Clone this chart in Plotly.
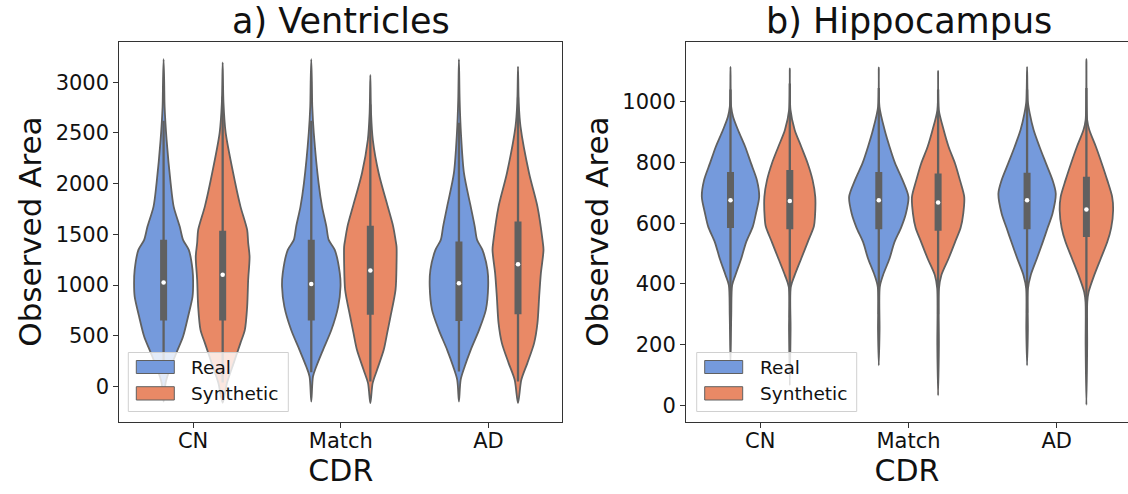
import numpy as np
import plotly.graph_objects as go

# ---------------- data ----------------
categories = ["CN", "Match", "AD"]
hues = ["Real", "Synthetic"]

# a) Ventricles: density profiles (value levels, relative density)
ven_cn_real_y = [3227, 3000, 2760, 2430, 2004, 1774, 1577, 1446, 1347, 1150, 1019, 887, 690, 493, 332, 165, 36, -150]
ven_cn_real_d = [0, 0.6, 1.0, 3.0, 7.0, 10.0, 16.0, 19.3, 25.0, 28.7, 29.3, 28.7, 24.3, 19.3, 12.7, 6.0, 2.0, 0]
ven_cn_syn_y = [3197, 2800, 2500, 2004, 1774, 1544, 1416, 1281, 1052, 788, 559, 430, 233, 36, -160]
ven_cn_syn_d = [0, 0.8, 3.0, 12.5, 17.7, 24.3, 25.3, 26.7, 25.3, 24.3, 22.0, 17.7, 11.0, 4.3, 0]
ven_match_real_y = [3227, 3000, 2760, 2500, 2004, 1774, 1577, 1446, 1347, 1118, 986, 788, 559, 362, 197, 99, -148]
ven_match_real_d = [0, 0.6, 1.0, 2.5, 7.3, 10.7, 15.0, 17.3, 23.3, 28.3, 29.0, 26.7, 20.0, 11.7, 5.0, 1.7, 0]
ven_match_syn_y = [3072, 2700, 2430, 2103, 1774, 1577, 1446, 1380, 1216, 953, 690, 526, 362, 165, 33, -164]
ven_match_syn_d = [0, 0.7, 2.5, 8.3, 17.3, 22.7, 25.0, 26.0, 26.0, 25.0, 20.0, 16.7, 13.3, 6.7, 2.3, 0]
ven_ad_real_y = [3227, 2826, 2497, 2103, 1774, 1577, 1446, 1347, 1150, 986, 756, 559, 362, 197, 66, -148]
ven_ad_real_d = [0, 0.7, 2.0, 5.0, 11.7, 15.7, 18.0, 23.3, 28.3, 29.0, 26.7, 20.0, 11.7, 5.7, 1.7, 0]
ven_ad_syn_y = [3154, 2800, 2562, 2103, 1774, 1446, 1347, 1118, 887, 625, 428, 231, 66, -164]
ven_ad_syn_d = [0, 0.7, 2.5, 11.0, 19.3, 24.3, 25.3, 22.7, 21.0, 19.3, 16.0, 9.3, 3.3, 0]

# inner box statistics per category (CN, Match, AD)
ven_real_q1 = [650, 650, 647]
ven_real_med = [1025, 1012, 1019]
ven_real_q3 = [1446, 1446, 1429]
ven_real_lo = [140, 140, 148]
ven_real_hi = [2620, 2620, 2600]
ven_syn_q1 = [650, 707, 713]
ven_syn_med = [1101, 1143, 1206]
ven_syn_q3 = [1535, 1584, 1626]
ven_syn_lo = [40, 50, 50]
ven_syn_hi = [2860, 2780, 2850]

# b) Hippocampus
hip_cn_real_y = [1115, 983, 950, 907, 852, 797, 742, 687, 632, 588, 538, 484, 429, 396, 300, 135]
hip_cn_real_d = [0, 0.7, 2.7, 7.7, 15.0, 21.0, 27.0, 29.3, 26.0, 22.7, 16.0, 11.0, 5.0, 1.7, 0.8, 0]
hip_cn_syn_y = [1110, 973, 907, 852, 797, 742, 687, 621, 590, 538, 484, 429, 390, 250, 66]
hip_cn_syn_d = [0, 0.7, 5.0, 11.7, 18.3, 23.3, 26.0, 25.7, 24.6, 18.3, 11.7, 5.0, 1.0, 0.8, 0]
hip_match_real_y = [1113, 983, 907, 852, 797, 742, 687, 632, 585, 538, 484, 429, 390, 250, 132]
hip_match_real_d = [0, 0.7, 6.0, 11.0, 16.7, 24.3, 30.3, 27.7, 22.7, 16.0, 11.0, 4.3, 1.0, 0.8, 0]
hip_match_syn_y = [1102, 973, 907, 852, 797, 742, 687, 632, 585, 538, 484, 429, 385, 200, 33]
hip_match_syn_d = [0, 0.7, 5.7, 10.7, 17.3, 22.3, 26.7, 25.7, 23.0, 17.3, 10.7, 3.3, 0.9, 0.8, 0]
hip_ad_real_y = [1115, 1000, 962, 907, 852, 797, 742, 698, 632, 585, 538, 484, 429, 385, 250, 132]
hip_ad_real_d = [0, 0.8, 2.7, 6.7, 12.7, 19.3, 26.0, 29.3, 26.0, 21.0, 16.0, 10.0, 3.7, 0.9, 0.8, 0]
hip_ad_syn_y = [1140, 940, 907, 852, 797, 742, 687, 643, 585, 538, 484, 429, 374, 341, 200, 2]
hip_ad_syn_d = [0, 0.8, 3.0, 9.7, 15.7, 21.3, 26.3, 27.3, 25.3, 21.3, 14.7, 8.0, 2.3, 0.9, 0.8, 0]

hip_real_q1 = [584, 580, 580]
hip_real_med = [676, 676, 676]
hip_real_q3 = [769, 769, 766]
hip_real_lo = [310, 300, 305]
hip_real_hi = [1040, 1045, 1040]
hip_syn_q1 = [580, 575, 555]
hip_syn_med = [673, 668, 645]
hip_syn_q3 = [775, 764, 753]
hip_syn_lo = [290, 300, 260]
hip_syn_hi = [1060, 1040, 1045]

ven_ticks = [0, 500, 1000, 1500, 2000, 2500, 3000]
hip_ticks = [0, 200, 400, 600, 800, 1000]

# ---------------- style ----------------
W, H = 1128, 494
COLORS = {"Real": "#759ADC", "Synthetic": "#E98966"}
GRAY = "#606060"
FONT = "DejaVu Sans"
HALF_WIDTH = 0.2
OFFSETS = {"Real": -0.2, "Synthetic": 0.2}


def px_x(x):
    return x / W


def px_y(y):
    return 1 - y / H


panels = [
    dict(
        xa="x", ya="y",
        profiles={
            ("CN", "Real"): (ven_cn_real_y, ven_cn_real_d),
            ("CN", "Synthetic"): (ven_cn_syn_y, ven_cn_syn_d),
            ("Match", "Real"): (ven_match_real_y, ven_match_real_d),
            ("Match", "Synthetic"): (ven_match_syn_y, ven_match_syn_d),
            ("AD", "Real"): (ven_ad_real_y, ven_ad_real_d),
            ("AD", "Synthetic"): (ven_ad_syn_y, ven_ad_syn_d),
        },
        stats={
            "Real": (ven_real_q1, ven_real_med, ven_real_q3, ven_real_lo, ven_real_hi),
            "Synthetic": (ven_syn_q1, ven_syn_med, ven_syn_q3, ven_syn_lo, ven_syn_hi),
        },
    ),
    dict(
        xa="x2", ya="y2",
        profiles={
            ("CN", "Real"): (hip_cn_real_y, hip_cn_real_d),
            ("CN", "Synthetic"): (hip_cn_syn_y, hip_cn_syn_d),
            ("Match", "Real"): (hip_match_real_y, hip_match_real_d),
            ("Match", "Synthetic"): (hip_match_syn_y, hip_match_syn_d),
            ("AD", "Real"): (hip_ad_real_y, hip_ad_real_d),
            ("AD", "Synthetic"): (hip_ad_syn_y, hip_ad_syn_d),
        },
        stats={
            "Real": (hip_real_q1, hip_real_med, hip_real_q3, hip_real_lo, hip_real_hi),
            "Synthetic": (hip_syn_q1, hip_syn_med, hip_syn_q3, hip_syn_lo, hip_syn_hi),
        },
    ),
]

fig = go.Figure()

for p in panels:
    dmax = max(max(d) for _, d in p["profiles"].values())
    for ci, cat in enumerate(categories):
        for hue in hues:
            ys, ds = p["profiles"][(cat, hue)]
            ys = np.asarray(ys, dtype=float)
            hw = np.asarray(ds, dtype=float) / dmax * HALF_WIDTH
            c = ci + OFFSETS[hue]
            # right side bottom -> top, left side top -> bottom
            xs = np.concatenate([c + hw[::-1], c - hw[1:]])
            yy = np.concatenate([ys[::-1], ys[1:]])
            fig.add_trace(go.Scatter(
                x=xs, y=yy, mode="lines", fill="toself",
                fillcolor=COLORS[hue],
                line=dict(color=GRAY, width=1.8, shape="spline", smoothing=0.8),
                hoverinfo="skip", showlegend=False, name=hue,
                xaxis=p["xa"], yaxis=p["ya"],
            ))
            q1, med, q3, lo, hi = (s[ci] for s in p["stats"][hue])
            fig.add_trace(go.Scatter(
                x=[c, c], y=[lo, hi], mode="lines",
                line=dict(color=GRAY, width=2.3),
                hoverinfo="skip", showlegend=False,
                xaxis=p["xa"], yaxis=p["ya"],
            ))
            fig.add_trace(go.Scatter(
                x=[c, c], y=[q1, q3], mode="lines",
                line=dict(color=GRAY, width=7),
                hoverinfo="skip", showlegend=False,
                xaxis=p["xa"], yaxis=p["ya"],
            ))
            fig.add_trace(go.Scatter(
                x=[c], y=[med], mode="markers",
                marker=dict(color="white", size=4.5, line=dict(width=0)),
                hoverinfo="skip", showlegend=False,
                xaxis=p["xa"], yaxis=p["ya"],
            ))

axis_common = dict(
    showline=True, linecolor="#333333", linewidth=1,
    ticks="outside", ticklen=5, tickwidth=1, tickcolor="#333333",
    showgrid=False, zeroline=False,
    tickfont=dict(family=FONT, size=21, color="#111111"),
)
x_common = dict(axis_common, ticklabelstandoff=-5)
y_dom = [px_y(421.5), px_y(41.7)]

fig.update_layout(
    width=W, height=H,
    margin=dict(l=0, r=0, t=0, b=0),
    paper_bgcolor="white", plot_bgcolor="white",
    font=dict(family=FONT, color="#111111"),
    xaxis=dict(x_common, domain=[px_x(119.3), px_x(562.3)], range=[-0.5, 2.5],
               tickvals=[0, 1, 2], ticktext=categories, mirror=True, anchor="y",
               title=dict(text="CDR", font=dict(family=FONT, size=30), standoff=4)),
    yaxis=dict(axis_common, domain=y_dom, range=[-345, 3400], tickvals=ven_ticks,
               mirror=True, anchor="x",
               title=dict(text="Observed Area", font=dict(family=FONT, size=31), standoff=4)),
    xaxis2=dict(x_common, domain=[px_x(686), 1.0], range=[-0.5, 2.4805],
                tickvals=[0, 1, 2], ticktext=categories, mirror=True, anchor="y2",
                title=dict(text="CDR", font=dict(family=FONT, size=30), standoff=4)),
    yaxis2=dict(axis_common, domain=y_dom, range=[-52.8, 1197.8], tickvals=hip_ticks,
                mirror=False, anchor="x2",
                title=dict(text="Observed Area", font=dict(family=FONT, size=31), standoff=4)),
)

# subplot titles
for text, cx in [("a) Ventricles", 341), ("b) Hippocampus", 909)]:
    fig.add_annotation(text=text, x=px_x(cx), y=px_y(21), xref="paper", yref="paper",
                       xanchor="center", yanchor="middle", showarrow=False,
                       font=dict(family=FONT, size=35, color="#111111"))

# legends (one per panel)
for bx in [128.3, 696.7]:
    fig.add_shape(type="rect", xref="paper", yref="paper", layer="above",
                  x0=px_x(bx), x1=px_x(bx + 160), y0=px_y(411.5), y1=px_y(352.5),
                  fillcolor="rgba(255,255,255,0.8)", line=dict(color="#d0d0d0", width=1))
    for hue, (t, b) in zip(hues, [(360.5, 373.5), (386.7, 400)]):
        fig.add_shape(type="rect", xref="paper", yref="paper", layer="above",
                      x0=px_x(bx + 8), x1=px_x(bx + 46), y0=px_y(b), y1=px_y(t),
                      fillcolor=COLORS[hue], line=dict(color=GRAY, width=1))
        fig.add_annotation(text=hue, x=px_x(bx + 61), y=px_y((t + b) / 2), xref="paper", yref="paper",
                           xanchor="left", yanchor="middle", showarrow=False,
                           font=dict(family=FONT, size=18.5, color="#111111"))

fig.write_html("out.html", config={"displayModeBar": False})
